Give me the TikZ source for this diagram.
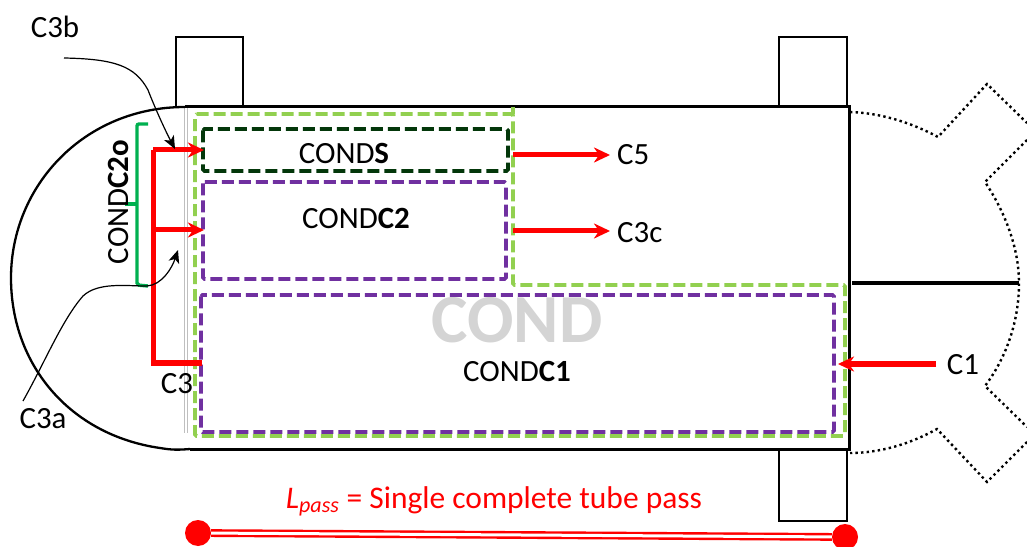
\documentclass[tikz,border=0pt]{standalone}
\usepackage{fontspec}
\setmainfont{Carlito}
\usetikzlibrary{arrows.meta}
\definecolor{lime}{HTML}{92D050}
\definecolor{violetb}{HTML}{7030A0}
\definecolor{darkg}{HTML}{03370A}
\definecolor{brace}{HTML}{00B050}
\tikzset{
  x=1bp,y=-1bp,
  body/.style={draw=black,line width=3bp},
  arcline/.style={draw=black,line width=2.3bp},
  port/.style={draw=black,line width=2.6bp,line join=miter},
  gear/.style={draw=black,line width=2.4bp,dash pattern=on 2.4bp off 3.2bp},
  dashbox/.style={line width=3.6bp,dash pattern=on 12bp off 5bp,rounded corners=1.5bp},
  redline/.style={draw=red,line width=5bp},
  redarrow/.style={redline,-{Stealth[length=16bp,width=15bp,inset=5bp]}},
  callout/.style={draw=black,line width=1.2bp},
  callarrow/.style={callout,-{Stealth[length=13bp,width=11bp,inset=3.5bp]}},
  lbl/.style={inner sep=0pt,font=\fontsize{31}{34}\selectfont},
  lbls/.style={inner sep=0pt,font=\fontsize{31}{34}\selectfont},
  dot/.style={circle,fill=red,draw=none,minimum size=26bp,inner sep=0pt},
}
\begin{document}
\begin{tikzpicture}
\useasboundingbox (0,0) rectangle (1027,547);
% big label
\node[inner sep=0pt,text=black!17,font=\fontsize{69}{72}\selectfont\bfseries] (big) at (517,320) {COND};
% separators
\draw[draw=black!25,line width=1bp] (184,108) -- (184,433);
\draw[draw=black!25,line width=1bp] (187,108) -- (187,433);
% shell
\draw[body] (185,107) -- (849,107) -- (849,449) -- (190,449);
\draw[arcline] (190,449) .. controls (178,450) and (172,450) .. (160,448)
  .. controls (70,435) and (11,365) .. (11,278)
  .. controls (11,185) and (85,107) .. (185,107);
% ports
\draw[port] (176,107) -- (176,37) -- (243,37) -- (243,107);
\draw[port] (779,107) -- (779,37) -- (847,37) -- (847,107);
\draw[port] (779,449) -- (779,521) -- (847,521) -- (847,449);
% dotted head
\draw[gear] (850,112) .. controls (880,113) and (910,122) .. (938,137) -- (987,84) -- (1027,123);
\draw[gear] (1027,140) -- (985,182) .. controls (1005,212) and (1019,248) .. (1019,283)
  .. controls (1019,322) and (1006,358) .. (985,386) -- (1027,427);
\draw[gear] (1027,442) -- (987,482) -- (937,429) .. controls (910,444) and (880,453) .. (850,453);
\draw[draw=black,line width=3.6bp] (852,283) -- (1019,283);
% dashed outlines
\draw[dashbox,draw=lime] (195,114) -- (513,114) -- (513,285) -- (845,285) -- (845,436) -- (195,436) -- cycle;
\draw[draw=lime,line width=3.6bp] (513,107) -- (513,114);
\draw[dashbox,draw=darkg] (203,129) rectangle (508,171);
\draw[dashbox,draw=violetb] (203,182) rectangle (506,279);
\draw[dashbox,draw=violetb] (201,295) rectangle (834,432);
% box labels
\node[lbls] (cs) at (344,153) {COND\textbf{S}};
\node[lbls] (c2) at (356,218) {COND\textbf{C2}};
\node[lbls] (c1) at (517,371) {COND\textbf{C1}};
% bracket
\draw[draw=brace,line width=3.4bp,rounded corners=2bp] (148,124) -- (137,124) -- (137,285) -- (148,286);
\draw[draw=brace,line width=3.4bp] (125,204) -- (137,204);
\node[lbls,rotate=90] (c2o) at (118,202) {COND\textbf{C2o}};
% red flow
\coordinate (rtop) at (153,150);
\coordinate (rmid) at (153,230);
\coordinate (rbot) at (153,363);
\coordinate (sin) at (204,150);
\coordinate (c2in) at (204,230);
\coordinate (c1in) at (202,363);
\draw[redline,line join=miter] (c1in) -- (rbot) -- (rtop);
\draw[redarrow] (rtop) -- (sin);
\draw[redarrow] (rmid) -- (c2in);
\coordinate (c5a) at (513,155);
\coordinate (c3ca) at (513,231);
\coordinate (c5t) at (610,155);
\coordinate (c3ct) at (610,231);
\coordinate (c1s) at (936,364);
\coordinate (c1t) at (838,364);
\node[lbl,anchor=west] (c5) at (617,155) {C5};
\node[lbl,anchor=west] (c3c) at (617,233) {C3c};
\node[lbl] (c1l) at (963,365) {C1};
\draw[redarrow] (c5a) -- (c5t);
\draw[redarrow] (c3ca) -- (c3ct);
\draw[redarrow] (c1s) -- (c1t);
% callouts
\node[lbl] (c3b) at (55,27) {C3b};
\node[lbl] (c3a) at (43,419) {C3a};
\node[lbl] (c3) at (177,384) {C3};
\coordinate (c3bs) at (64,58);
\coordinate (c3bt) at (175,149);
\coordinate (c3as) at (23,401);
\coordinate (c3at) at (178,250);
\draw[callarrow] (c3bs) .. controls (115,59) and (135,66) .. (148,90) .. controls (155,108) and (165,130) .. (c3bt);
\draw[callarrow] (c3as) .. controls (45,362) and (62,320) .. (83,296) .. controls (98,282) and (125,286) .. (147,286) .. controls (162,285) and (172,268) .. (c3at);
% pass length
\node[inner sep=0pt,text=red,font=\fontsize{31.6}{34}\selectfont] (lp) at (494,501) {\textit{L\textsubscript{pass}} = Single complete tube pass};
\node[dot] (d1) at (198,533) {};
\node[dot] (d2) at (845,537) {};
\draw[draw=red,line width=2.4bp,double=white,double distance=3bp] (d1) -- (d2);
\end{tikzpicture}
\end{document}
